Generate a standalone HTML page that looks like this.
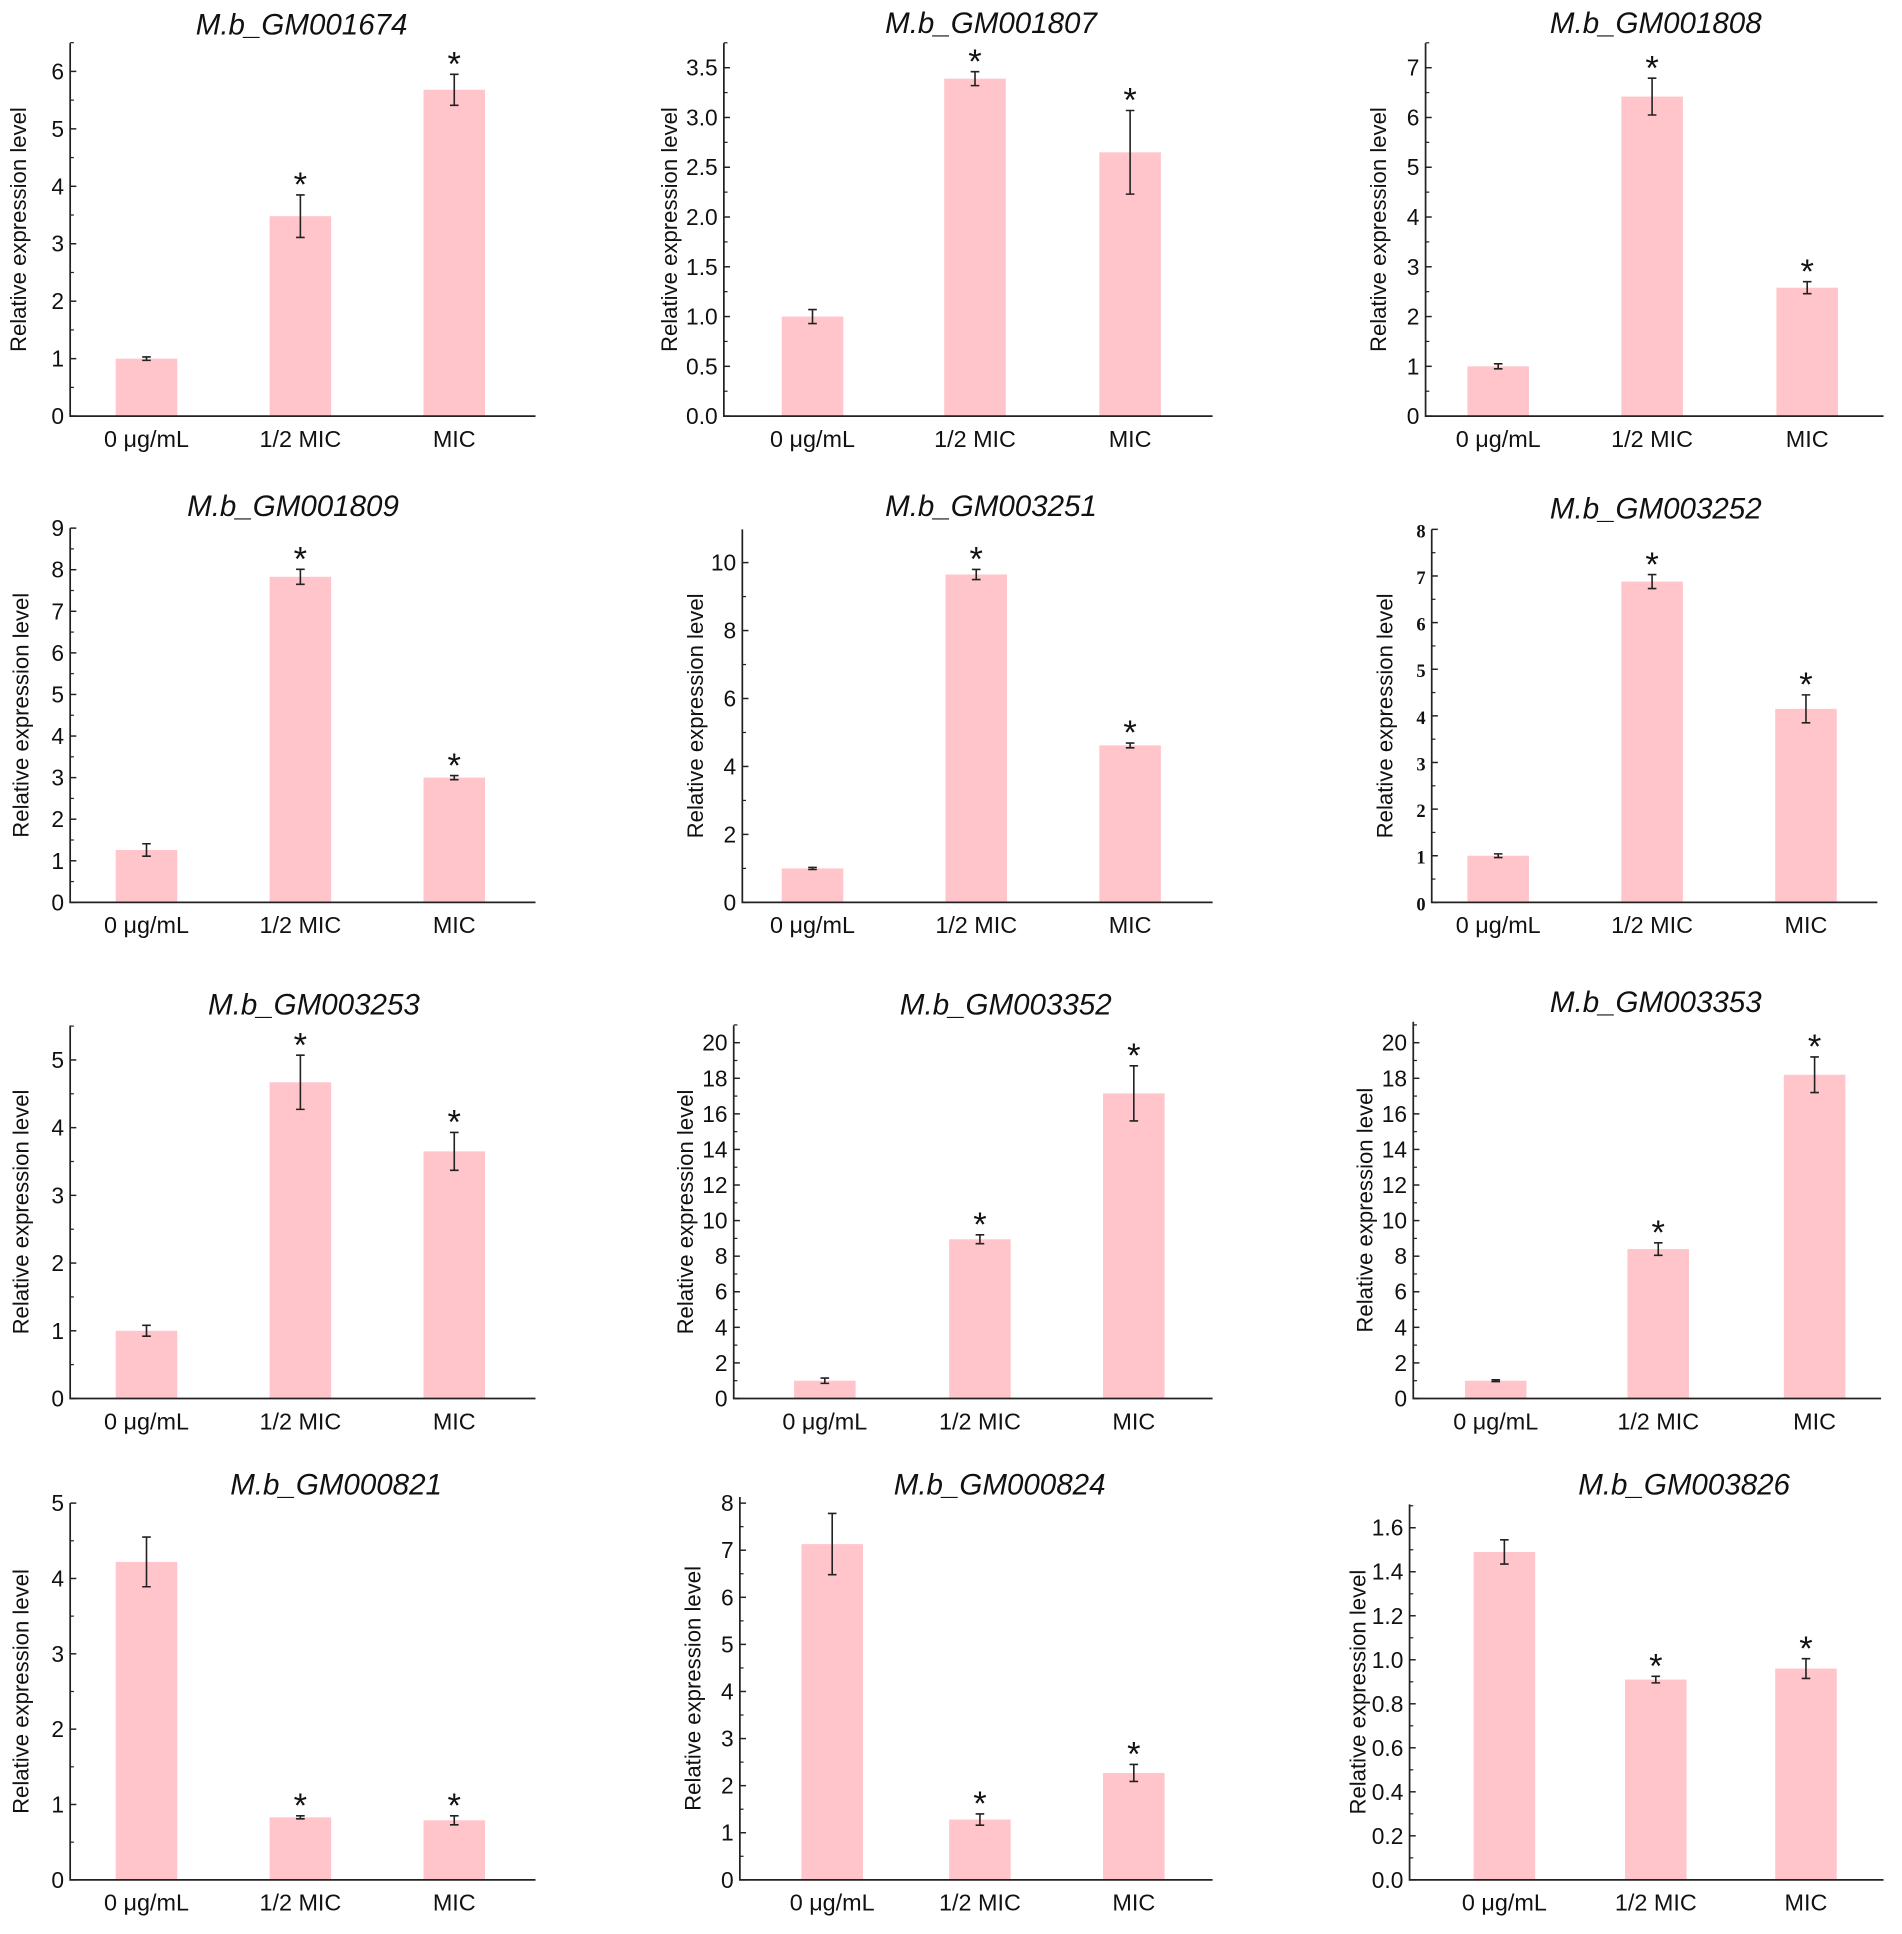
<!DOCTYPE html>
<html><head><meta charset="utf-8"><style>
html,body{margin:0;padding:0;background:#fff;}
svg{display:block;}
</style></head><body>
<svg id="fig" width="1902" height="1934" viewBox="0 0 1545 1571" preserveAspectRatio="none" xmlns="http://www.w3.org/2000/svg"></svg>
<script>
const categories = ["0 μg/mL", "1/2 MIC", "MIC"];
const titles = ["M.b_GM001674","M.b_GM001807","M.b_GM001808","M.b_GM001809","M.b_GM003251","M.b_GM003252","M.b_GM003253","M.b_GM003352","M.b_GM003353","M.b_GM000821","M.b_GM000824","M.b_GM003826"];
const means = [
  [1.0, 3.48, 5.68],[1.0, 3.39, 2.65],[1.0, 6.42, 2.58],
  [1.26, 7.83, 3.0],[1.0, 9.65, 4.62],[1.0, 6.88, 4.15],
  [1.0, 4.67, 3.65],[1.0, 8.95, 17.15],[1.0, 8.4, 18.2],
  [4.22, 0.83, 0.79],[7.13, 1.28, 2.27],[1.49, 0.91, 0.96]
];
const errors = [
  [0.03, 0.37, 0.27],[0.07, 0.07, 0.42],[0.05, 0.37, 0.12],
  [0.15, 0.18, 0.05],[0.03, 0.15, 0.07],[0.04, 0.15, 0.3],
  [0.08, 0.4, 0.28],[0.15, 0.25, 1.55],[0.05, 0.35, 1.0],
  [0.33, 0.02, 0.06],[0.65, 0.12, 0.18],[0.055, 0.015, 0.045]
];
const significant = [
  [0,1,1],[0,1,1],[0,1,1],[0,1,1],[0,1,1],[0,1,1],
  [0,1,1],[0,1,1],[0,1,1],[0,1,1],[0,1,1],[0,1,1]
];
const tickMax = [6,3.5,7,9,10,8,5,20,20,5,8,1.6];
const tickStep = [1,0.5,1,1,2,1,1,2,2,1,1,0.2];
const tickDecimals = [0,1,0,0,0,0,0,0,0,0,0,1];

// layout (pixel geometry, thumbnail coordinates)
const L = [
 {ax:57,ar:435,y0:338,yt:58,top:35,bars:[119,244,369],tx:245,ty:28,yo:42},
 {ax:588,ar:985,y0:338,yt:55,top:35,bars:[660,792,918],tx:805,ty:27,yo:44},
 {ax:1158,ar:1530,y0:338,yt:55,top:35,bars:[1217,1342,1468],tx:1345,ty:27,yo:38},
 {ax:57,ar:435,y0:733,yt:429,top:429,bars:[119,244,369],tx:238,ty:419,yo:40},
 {ax:603,ar:985,y0:733,yt:457,top:430,bars:[660,793,918],tx:805,ty:419,yo:38},
 {ax:1163,ar:1525,y0:733,yt:430,top:430,bars:[1217,1342,1467],tx:1345,ty:421,serif:true,yo:38},
 {ax:57,ar:435,y0:1136,yt:861,top:833,bars:[119,244,369],tx:255,ty:824,yo:40},
 {ax:596,ar:985,y0:1136,yt:847,top:833,bars:[670,796,921],tx:817,ty:824,yo:39},
 {ax:1148,ar:1528,y0:1136,yt:847,top:830,bars:[1215,1347,1474],tx:1345,ty:822,yo:39},
 {ax:57,ar:435,y0:1527,yt:1221,top:1221,bars:[119,244,369],tx:273,ty:1214,yo:40},
 {ax:601,ar:985,y0:1527,yt:1221,top:1216,bars:[676,796,921],tx:812,ty:1214,yo:38},
 {ax:1145,ar:1530,y0:1527,yt:1241,top:1222,bars:[1222,1345,1467],tx:1368,ty:1214,yo:42}
];
const NS="http://www.w3.org/2000/svg";
const svg=document.getElementById('fig');
function mk(tag,attrs,parent){const e=document.createElementNS(NS,tag);for(const k in attrs)e.setAttribute(k,attrs[k]);parent.appendChild(e);return e;}
const SANS='"Liberation Sans", Arial, sans-serif';
const SERIF='"Liberation Serif", "Times New Roman", serif';
for(let p=0;p<12;p++){
  const l=L[p];
  const g=mk('g',{},svg);
  
  
  const y=v=>l.y0-(v/tickMax[p])*(l.y0-l.yt);
  for(let i=0;i<3;i++){
    const cx=l.bars[i], v=means[p][i], e=errors[p][i];
    const r=mk('rect',{x:cx-25,y:y(v),width:50,height:l.y0-y(v),fill:'#ffc5cb'},g);
    
    
    const eb=mk('path',{d:`M${cx-3.5},${y(v+e)}H${cx+3.5}M${cx},${y(v+e)}V${y(v-e)}M${cx-3.5},${y(v-e)}H${cx+3.5}`,stroke:'#222',fill:'none','stroke-width':1.3},g);
    
    
    if(significant[p][i]){
      const s=mk('text',{x:cx,y:y(v+e)+1,'text-anchor':'middle','font-family':SANS,'font-size':28,fill:'#111'},g);
      s.textContent='*';
      
      
    }
    const xl=mk('text',{x:cx,y:l.y0+25,'text-anchor':'middle','font-family':SANS,'font-size':19,fill:'#111'},g);
    xl.textContent=categories[i];
    
    
  }
  const ax=mk('path',{d:`M${l.ax},${l.top}V${l.y0}H${l.ar}`,stroke:'#222',fill:'none','stroke-width':1.4},g);
  
  
  const n=Math.round(tickMax[p]/tickStep[p]);
  for(let k=0;k<=n;k++){
    const v=k*tickStep[p], ty=y(v);
    mk('line',{x1:l.ax,x2:l.ax+5,y1:ty,y2:ty,stroke:'#222','stroke-width':1.2},g);
    const my=y(v+tickStep[p]/2); if(my>=l.top-0.5) mk('line',{x1:l.ax,x2:l.ax+3,y1:my,y2:my,stroke:'#222','stroke-width':1},g);
    const t=mk('text',{x:l.ax-5,y:ty+6.5,'text-anchor':'end','font-family':l.serif?SERIF:SANS,'font-size':l.serif?15:18.5,'font-weight':l.serif?'bold':'normal',fill:'#111'},g);
    t.textContent=v.toFixed(tickDecimals[p]);
    
    
  }
  const yt=mk('text',{x:0,y:0,'text-anchor':'middle','font-family':SANS,'font-size':18,fill:'#111',transform:`translate(${l.ax-l.yo+6},${(l.y0+l.top)/2}) rotate(-90)`},g);
  yt.textContent='Relative expression level';
  
  
  const tt=mk('text',{x:l.tx,y:l.ty,'text-anchor':'middle','font-family':SANS,'font-size':24,'font-style':'italic',fill:'#111'},g);
  tt.textContent=titles[p];
  
  
}
</script>
</body></html>
